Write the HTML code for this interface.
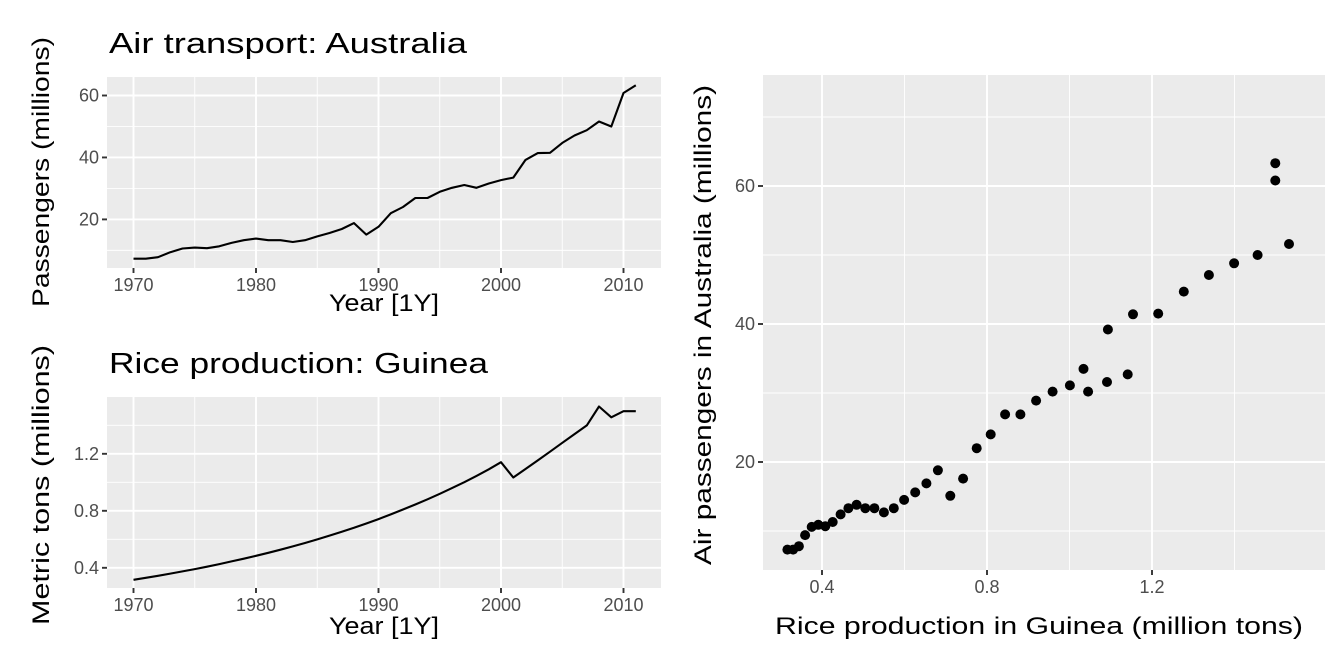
<!DOCTYPE html>
<html><head><meta charset="utf-8"><style>
html,body{margin:0;padding:0;background:#fff;}
svg{display:block;font-family:"Liberation Sans",sans-serif;}
</style></head><body>
<svg id="c" width="1344" height="672" viewBox="0 0 1344 672" xmlns="http://www.w3.org/2000/svg"></svg>
<script>
const years = [1970,1971,1972,1973,1974,1975,1976,1977,1978,1979,1980,1981,1982,1983,1984,1985,1986,1987,1988,1989,1990,1991,1992,1993,1994,1995,1996,1997,1998,1999,2000,2001,2002,2003,2004,2005,2006,2007,2008,2009,2010,2011];
const passengers = [7.3,7.3,7.8,9.4,10.6,10.9,10.7,11.3,12.4,13.3,13.8,13.3,13.3,12.7,13.3,14.5,15.6,16.9,18.8,15.1,17.6,22.0,24.0,26.9,26.9,28.9,30.2,31.1,30.2,31.6,32.7,33.5,39.2,41.4,41.5,44.7,47.1,48.8,51.6,50.0,60.8,63.3];
const rice = [0.316,0.330,0.344,0.359,0.375,0.391,0.408,0.426,0.445,0.464,0.484,0.505,0.527,0.550,0.574,0.599,0.626,0.653,0.681,0.711,0.742,0.775,0.809,0.844,0.881,0.919,0.959,1.001,1.045,1.091,1.141,1.034,1.093,1.154,1.215,1.277,1.338,1.399,1.532,1.456,1.499,1.499];
const yearTicks = [1970,1980,1990,2000,2010];
const yearMinor = [1975,1985,1995,2005];
const passTicks = [20,40,60];
const passMinor = [10,30,50];
const riceTicks = [0.4,0.8,1.2];
const riceMinor = [0.6,1.0,1.4];
const scatYMinor = [10,30,50,70];

const svg = document.getElementById('c');
const NS = 'http://www.w3.org/2000/svg';
function mk(tag, attrs, parent){const e=document.createElementNS(NS,tag);for(const k in attrs)e.setAttribute(k,attrs[k]);(parent||svg).appendChild(e);return e;}
function txt(s, attrs){const e=mk('text',attrs);e.textContent=s;return e;}
function scale(d0,d1,r0,r1){return v=>r0+(v-d0)/(d1-d0)*(r1-r0);}

function panel(name,L,R,T,B,x,y,xt,xm,yt,ym,xfmt,yfmt){
  mk('rect',{x:L,y:T,width:R-L,height:B-T,fill:'#ebebeb',});
  const g=mk('g',{});
  xm.forEach(v=>mk('line',{x1:x(v),x2:x(v),y1:T,y2:B,stroke:'#fff','stroke-width':0.9},g));
  ym.forEach(v=>mk('line',{y1:y(v),y2:y(v),x1:L,x2:R,stroke:'#fff','stroke-width':0.9},g));
  xt.forEach(v=>mk('line',{x1:x(v),x2:x(v),y1:T,y2:B,stroke:'#fff','stroke-width':1.9},g));
  yt.forEach(v=>mk('line',{y1:y(v),y2:y(v),x1:L,x2:R,stroke:'#fff','stroke-width':1.9},g));
  xt.forEach(v=>{
    mk('line',{x1:x(v),x2:x(v),y1:B,y2:B+5,stroke:'#333','stroke-width':1.9});
    const t=txt(xfmt(v),{x:x(v),y:B+23,'text-anchor':'middle','font-size':18,fill:'#4d4d4d'});
    
    
  });
  yt.forEach(v=>{
    mk('line',{x1:L-5,x2:L,y1:y(v),y2:y(v),stroke:'#333','stroke-width':1.9});
    const t=txt(yfmt(v),{x:L-8,y:y(v)+6,'text-anchor':'end','font-size':18,fill:'#4d4d4d'});
    
    
  });
}
const fit={lengthAdjust:'spacingAndGlyphs'};

// Top-left: air transport
{
  const L=107,R=661,T=77,B=268;
  const x=scale(1970,2010,133.5,623.5), y=scale(20,60,219.4,95.5);
  panel('air-panel',L,R,T,B,x,y,yearTicks,yearMinor,passTicks,passMinor,v=>String(v),v=>String(v));
  const p=mk('path',{d:years.map((yr,i)=>(i?'L':'M')+x(yr).toFixed(1)+','+y(passengers[i]).toFixed(1)).join(''),fill:'none',stroke:'#000','stroke-width':2.1,'stroke-linejoin':'round'});
  
  
  txt('Air transport: Australia',{x:109,y:53,'font-size':29,textLength:358,...fit,fill:'#000',});
  txt('Year [1Y]',{x:329,y:311,'font-size':24,textLength:110,...fit,fill:'#000',});
  txt('Passengers (millions)',{x:0,y:0,transform:'translate(49,172) rotate(-90)','text-anchor':'middle','font-size':24,textLength:270,...fit,fill:'#000',});
}
// Bottom-left: rice
{
  const L=107,R=661,T=397,B=588;
  const x=scale(1970,2010,133.5,623.5), y=scale(0.4,1.2,567.8,453.8);
  panel('rice-panel',L,R,T,B,x,y,yearTicks,yearMinor,riceTicks,[0.6,1.0,1.4],v=>String(v),v=>v.toFixed(1));
  const p=mk('path',{d:years.map((yr,i)=>(i?'L':'M')+x(yr).toFixed(1)+','+y(rice[i]).toFixed(1)).join(''),fill:'none',stroke:'#000','stroke-width':2.1,'stroke-linejoin':'round'});
  
  
  txt('Rice production: Guinea',{x:109,y:373,'font-size':29,textLength:379,...fit,fill:'#000',});
  txt('Year [1Y]',{x:329,y:634,'font-size':24,textLength:110,...fit,fill:'#000',});
  txt('Metric tons (millions)',{x:0,y:0,transform:'translate(49,485) rotate(-90)','text-anchor':'middle','font-size':24,textLength:280,...fit,fill:'#000',});
}
// Right: scatter
{
  const L=763,R=1325,T=75,B=570;
  const x=scale(0.4,1.2,822,1152), y=scale(20,60,462,186);
  panel('scatter-panel',L,R,T,B,x,y,riceTicks,riceMinor,passTicks,scatYMinor,v=>v.toFixed(1),v=>String(v));
  rice.forEach((r,i)=>{
    const c=mk('circle',{cx:x(r).toFixed(1),cy:y(passengers[i]).toFixed(1),r:5,fill:'#000'});
    
    
  });
  txt('Rice production in Guinea (million tons)',{x:775,y:634,'font-size':24,textLength:528,...fit,fill:'#000',});
  txt('Air passengers in Australia (millions)',{x:0,y:0,transform:'translate(711,325) rotate(-90)','text-anchor':'middle','font-size':24,textLength:480,...fit,fill:'#000',});
}
</script>
</body></html>
